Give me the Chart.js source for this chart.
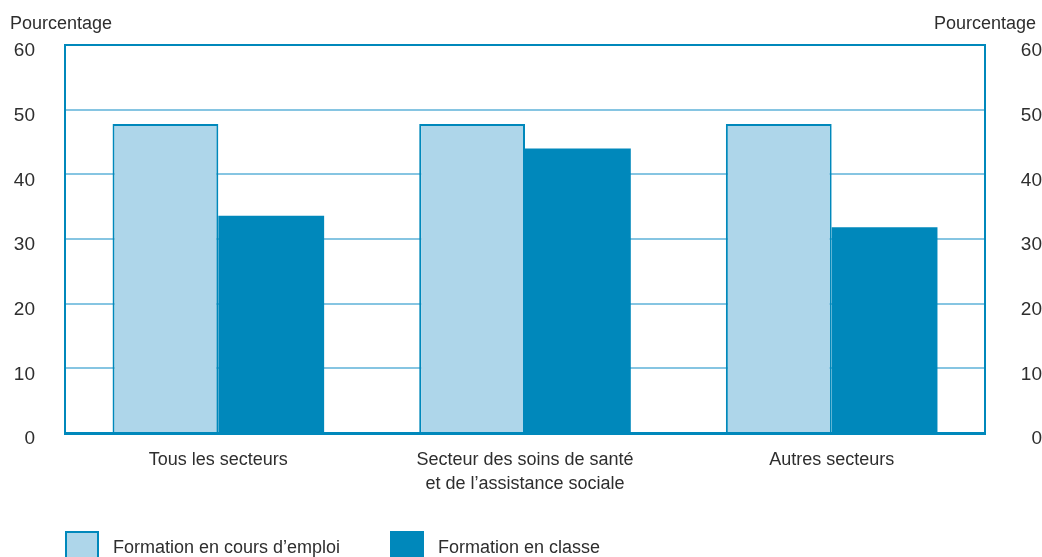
<!DOCTYPE html>
<html>
<head>
<meta charset="utf-8">
<script src="https://cdn.jsdelivr.net/npm/chart.js@4.4.1/dist/chart.umd.min.js"></script>
<style>
  html, body { margin: 0; padding: 0; background: #ffffff; }
  #wrap { position: relative; width: 1042px; height: 557px; }
</style>
</head>
<body>
<div id="wrap"><canvas id="c" width="1042" height="557"></canvas></div>
<script>
const categories = [
  ["Tous les secteurs"],
  ["Secteur des soins de santé", "et de l\u2019assistance sociale"],
  ["Autres secteurs"]
];
const seriesNames = ["Formation en cours d\u2019emploi", "Formation en classe"];
const onTheJob = [47.8, 47.8, 47.8];
const classroom = [33.6, 44.0, 31.8];
const yTicks = [0, 10, 20, 30, 40, 50, 60];
const axisTitle = "Pourcentage";

const DARK = '#0088BB';
const LIGHT = '#AED6EA';
const GRID = '#86C5E2';
const TEXT = '#2e2e2e';
const FONT = "'Liberation Sans', Arial, sans-serif";

const extras = {
  id: 'extras',
  afterDraw(chart) {
    const ctx = chart.ctx;
    ctx.save();
    ctx.fillStyle = TEXT;
    ctx.font = "18px " + FONT;
    ctx.textBaseline = 'alphabetic';
    ctx.textAlign = 'left';
    ctx.fillText(axisTitle, 10, 29);
    ctx.textAlign = 'right';
    ctx.fillText(axisTitle, 1036, 29);

    // legend
    const items = [
      { x: 65, fill: LIGHT, stroke: DARK, label: seriesNames[0] },
      { x: 390, fill: DARK, stroke: null, label: seriesNames[1] }
    ];
    items.forEach(it => {
      ctx.fillStyle = it.fill;
      ctx.fillRect(it.x, 531, 34, 30);
      if (it.stroke) {
        ctx.strokeStyle = it.stroke;
        ctx.lineWidth = 2;
        ctx.strokeRect(it.x + 1, 532, 32, 30);
      }
      ctx.fillStyle = TEXT;
      ctx.textAlign = 'left';
      ctx.textBaseline = 'middle';
      ctx.fillText(it.label, it.x + 48, 548);
    });
    ctx.restore();
  }
};

new Chart(document.getElementById('c'), {
  type: 'bar',
  data: {
    labels: categories,
    datasets: [
      {
        label: seriesNames[0],
        data: onTheJob,
        backgroundColor: LIGHT,
        borderColor: DARK,
        borderWidth: 2,
        borderSkipped: 'bottom',
        yAxisID: 'y'
      },
      {
        label: seriesNames[1],
        data: classroom,
        backgroundColor: DARK,
        borderWidth: 0,
        yAxisID: 'y'
      }
    ]
  },
  options: {
    responsive: false,
    animation: false,
    devicePixelRatio: 1,
    layout: { padding: { top: 45, left: 0, right: 0, bottom: 0 } },
    plugins: {
      legend: { display: false },
      tooltip: { enabled: false }
    },
    datasets: {
      bar: { categoryPercentage: 0.69, barPercentage: 1.0 }
    },
    scales: {
      x: {
        grid: { display: false, drawTicks: false },
        border: { display: true, color: DARK, width: 3 },
        ticks: {
          color: TEXT,
          font: { family: FONT, size: 18, lineHeight: 1.28 },
          padding: 16,
          maxRotation: 0,
          autoSkip: false
        },
        afterFit(scale) { scale.height = 124; }
      },
      y: {
        position: 'left',
        min: 0,
        max: 60,
        afterBuildTicks(scale) { scale.ticks = yTicks.map(v => ({ value: v })); },
        grid: {
          drawTicks: false,
          color: c => (c.tick && c.tick.value === 60) ? DARK : (c.tick && c.tick.value === 0 ? 'rgba(0,0,0,0)' : GRID),
          lineWidth: 2
        },
        border: { display: true, color: DARK, width: 2 },
        ticks: {
          color: TEXT,
          font: { family: FONT, size: 19 },
          padding: 30,
          labelOffset: 6
        },
        afterFit(scale) { scale.width = 65; }
      },
      y2: {
        position: 'right',
        min: 0,
        max: 60,
        afterBuildTicks(scale) { scale.ticks = yTicks.map(v => ({ value: v })); },
        grid: { display: false, drawTicks: false },
        border: { display: true, color: DARK, width: 2 },
        ticks: {
          color: TEXT,
          font: { family: FONT, size: 19 },
          padding: 33,
          crossAlign: 'far',
          labelOffset: 6
        },
        afterFit(scale) { scale.width = 57; }
      }
    }
  },
  plugins: [extras]
});
</script>
</body>
</html>
